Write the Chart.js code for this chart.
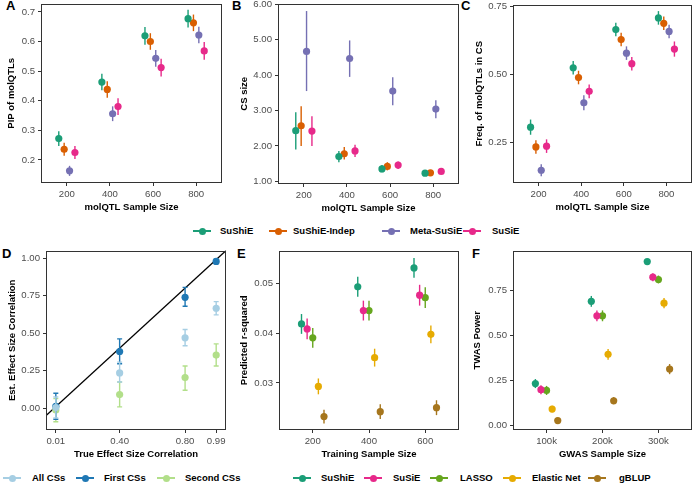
<!DOCTYPE html>
<html>
<head>
<meta charset="utf-8">
<script src="https://cdn.jsdelivr.net/npm/chart.js@4.4.1/dist/chart.umd.min.js"></script>
<style>
  html, body { margin: 0; padding: 0; background: #fff; }
  #fig { position: relative; width: 700px; height: 488px; overflow: hidden;
         font-family: 'Liberation Sans', Arial, sans-serif; }
  #fig canvas { position: absolute; }
  .tag { position: absolute; font-weight: bold; font-size: 13px; line-height: 13px; color: #000; }
  .keyline { position: absolute; width: 18px; height: 1.5px; }
  .keydot { position: absolute; width: 7px; height: 7px; border-radius: 50%; }
  .keytxt { position: absolute; font-weight: bold; font-size: 9.5px; line-height: 12px; color: #000; white-space: nowrap; }
</style>
</head>
<body>
<div id="fig">
  <div class="tag" style="left:6px;top:-1px">A</div>
  <div class="tag" style="left:232px;top:-1px">B</div>
  <div class="tag" style="left:461px;top:-1px">C</div>
  <div class="tag" style="left:2px;top:247px">D</div>
  <div class="tag" style="left:237px;top:247px">E</div>
  <div class="tag" style="left:472px;top:247px">F</div>
</div>
<script>
// ---- data ----
// top row: fine-mapping simulations
const molqtlN = [200, 400, 600, 800];
const fmMethods = ['SuShiE', 'SuShiE-Indep', 'Meta-SuSiE', 'SuSiE'];
const fmColors = ['#1B9E77', '#D95F02', '#7570B3', '#E7298A'];

// A: PIP of molQTLs (mean, +/- half width)
const pipMean = [
  [0.272, 0.463, 0.619, 0.677],
  [0.236, 0.438, 0.600, 0.663],
  [0.163, 0.356, 0.543, 0.622],
  [0.225, 0.380, 0.512, 0.568]
];
const pipErr = [
  [0.025, 0.028, 0.030, 0.030],
  [0.022, 0.028, 0.028, 0.028],
  [0.017, 0.025, 0.028, 0.028],
  [0.022, 0.028, 0.030, 0.030]
];

// B: CS size (mean, lower, upper)
const csMean = [
  [2.43, 1.70, 1.35, 1.23],
  [2.57, 1.78, 1.42, 1.24],
  [4.67, 4.47, 3.55, 3.04],
  [2.42, 1.86, 1.46, 1.28]
];
const csLo = [
  [1.90, 1.54, 1.26, 1.19],
  [2.00, 1.62, 1.31, 1.20],
  [3.55, 3.95, 3.15, 2.78],
  [2.00, 1.69, 1.35, 1.24]
];
const csHi = [
  [2.95, 1.86, 1.46, 1.27],
  [3.12, 1.97, 1.54, 1.28],
  [5.81, 4.98, 3.94, 3.29],
  [2.84, 2.03, 1.56, 1.32]
];

// C: frequency of molQTLs in CS
const freqMean = [
  [0.305, 0.524, 0.665, 0.708],
  [0.232, 0.488, 0.628, 0.688],
  [0.146, 0.395, 0.578, 0.658],
  [0.235, 0.437, 0.539, 0.593]
];
const freqErr = [
  [0.028, 0.025, 0.025, 0.025],
  [0.025, 0.025, 0.025, 0.025],
  [0.022, 0.028, 0.025, 0.025],
  [0.025, 0.025, 0.025, 0.028]
];

// D: effect size correlation
const trueCorr = [0.01, 0.40, 0.80, 0.99];
const csGroups = ['All CSs', 'First CSs', 'Second CSs'];
const csColors = ['#A6CEE3', '#1F78B4', '#B2DF8A'];
const corrMean = [
  [0.005, 0.235, 0.469, 0.666],
  [0.013, 0.378, 0.739, 0.978],
  [-0.011, 0.091, 0.204, 0.354]
];
const corrLo = [
  [-0.065, 0.175, 0.416, 0.622],
  [-0.073, 0.296, 0.679, 0.963],
  [-0.090, 0.009, 0.120, 0.281]
];
const corrHi = [
  [0.075, 0.307, 0.524, 0.710],
  [0.100, 0.462, 0.805, 0.993],
  [0.064, 0.175, 0.281, 0.429]
];
const identityLine = [-0.2, 1.2];

// bottom row: prediction / TWAS
const twasMethods = ['SuShiE', 'SuSiE', 'LASSO', 'Elastic Net', 'gBLUP'];
const twasColors = ['#1B9E77', '#E7298A', '#66A61E', '#E6AB02', '#A6761D'];

// E: predicted r-squared
const trainN = [200, 400, 600];
const r2Mean = [
  [0.0419, 0.0494, 0.0532],
  [0.0409, 0.0446, 0.0477],
  [0.0391, 0.0446, 0.0472],
  [0.0293, 0.0351, 0.0398],
  [0.0232, 0.0242, 0.0250]
];
const r2Err = [
  [0.0020, 0.0020, 0.0020],
  [0.0021, 0.0020, 0.0021],
  [0.0020, 0.0020, 0.0021],
  [0.0016, 0.0018, 0.0018],
  [0.0014, 0.0015, 0.0015]
];

// F: TWAS power (GWAS N in thousands)
const gwasN = [100, 200, 300];
const powMean = [
  [0.233, 0.688, 0.908],
  [0.199, 0.608, 0.822],
  [0.195, 0.608, 0.809],
  [0.092, 0.395, 0.678],
  [0.028, 0.138, 0.313]
];
const powErr = [
  [0.025, 0.030, 0.015],
  [0.025, 0.030, 0.022],
  [0.025, 0.030, 0.022],
  [0.018, 0.030, 0.028],
  [0.010, 0.020, 0.028]
];

// tick labels
const ticksA = [0.2, 0.3, 0.4, 0.5, 0.6, 0.7];
const ticksB = [1, 2, 3, 4, 5, 6];
const ticksC = [0.25, 0.50, 0.75];
const ticksDy = [0, 0.25, 0.5, 0.75, 1];
const ticksE = [0.03, 0.04, 0.05];
const ticksF = [0, 0.25, 0.5, 0.75];

// ---- drawing ----
const FONT = "'Liberation Sans', Arial, sans-serif";

// error bars under each dataset's points
const errorBars = {
  id: 'errorBars',
  beforeDatasetDraw(chart, args) {
    const ds = chart.data.datasets[args.index];
    if (!ds.lo) return;
    const ys = chart.scales.y, ctx = chart.ctx;
    ctx.save();
    ctx.strokeStyle = ds.backgroundColor;
    ctx.lineWidth = 1.4;
    args.meta.data.forEach((pt, i) => {
      const y1 = ys.getPixelForValue(ds.lo[i]);
      const y2 = ys.getPixelForValue(ds.hi[i]);
      ctx.beginPath();
      ctx.moveTo(pt.x, y1);
      ctx.lineTo(pt.x, y2);
      if (ds.cap) {
        ctx.moveTo(pt.x - ds.cap, y1); ctx.lineTo(pt.x + ds.cap, y1);
        ctx.moveTo(pt.x - ds.cap, y2); ctx.lineTo(pt.x + ds.cap, y2);
      }
      ctx.stroke();
    });
    ctx.restore();
  }
};

// panel border
const frame = {
  id: 'frame',
  afterDraw(chart) {
    const a = chart.chartArea, ctx = chart.ctx;
    ctx.save();
    ctx.strokeStyle = '#333';
    ctx.lineWidth = 1;
    ctx.strokeRect(Math.round(a.left) + 0.5, Math.round(a.top) + 0.5,
                   Math.round(a.right - a.left) - 1, Math.round(a.bottom - a.top) - 1);
    ctx.restore();
  }
};
Chart.register(errorBars, frame);

function dodged(xs, means, los, his, names, colors, width) {
  const k = means.length;
  return means.map((m, j) => ({
    label: names[j],
    data: xs.map((x, i) => ({ x: x + (j - (k - 1) / 2) * width, y: m[i] })),
    lo: los[j],
    hi: his[j],
    backgroundColor: colors[j],
    pointRadius: 3.6,
    pointHoverRadius: 3.6,
    pointBorderWidth: 0
  }));
}

function symLo(m, e) { return m.map((r, j) => r.map((v, i) => v - e[j][i])); }
function symHi(m, e) { return m.map((r, j) => r.map((v, i) => v + e[j][i])); }

function axis(min, max, ticks, fmt, title, isX, size, titlePad) {
  return {
    type: 'linear',
    min: min, max: max,
    afterBuildTicks: s => { s.ticks = ticks.map(v => ({ value: v })); },
    afterFit: s => {
      if (isX) { s.height = size; s.paddingLeft = 0; s.paddingRight = 0; }
      else { s.width = size; s.paddingTop = 0; s.paddingBottom = 0; }
    },
    ticks: { color: '#4d4d4d', font: { family: FONT, size: 9.6 }, padding: 3,
             autoSkip: false, maxRotation: 0, callback: fmt },
    grid: { drawOnChartArea: false, tickLength: 3, color: '#333', lineWidth: 1 },
    border: { display: false },
    title: { display: true, text: title, color: '#000',
             font: { family: FONT, size: 9.5, weight: 'bold' },
             padding: isX ? { top: 0, bottom: titlePad } : { top: titlePad, bottom: 0 } }
  };
}

function makePanel(p) {
  const left = p.col, top = p.box.t - 3;
  const w = p.box.r + 4 - left, h = p.box.b + 40 - top;
  const cv = document.createElement('canvas');
  cv.width = w; cv.height = h;
  cv.style.left = left + 'px'; cv.style.top = top + 'px';
  cv.style.width = w + 'px'; cv.style.height = h + 'px';
  document.getElementById('fig').appendChild(cv);
  new Chart(cv, {
    type: 'scatter',
    data: { datasets: p.datasets },
    options: {
      responsive: false,
      animation: false,
      layout: { padding: { top: 3, right: 4, left: 0, bottom: 0 } },
      plugins: { legend: { display: false }, tooltip: { enabled: false } },
      scales: {
        x: axis(p.x[0], p.x[1], p.x[2], p.x[3], p.x[4], true, 40, 10.3),
        y: axis(p.y[0], p.y[1], p.y[2], p.y[3], p.y[4], false, p.box.l - left, p.yPad)
      }
    }
  });
}

const f1 = v => v.toFixed(1);
const f2 = v => v.toFixed(2);
const fInt = v => String(v);
const fK = v => v + 'k';

makePanel({
  col: 0, box: { l: 41, t: 3, r: 222, b: 183 }, yPad: 6,
  x: [80, 920, molqtlN, fInt, 'molQTL Sample Size'],
  y: [0.122, 0.728, ticksA, f1, 'PIP of molQTLs'],
  datasets: dodged(molqtlN, pipMean, symLo(pipMean, pipErr), symHi(pipMean, pipErr), fmMethods, fmColors, 25)
});
makePanel({
  col: 232, box: { l: 278, t: 3, r: 459, b: 184 }, yPad: 6.3,
  x: [80, 920, molqtlN, fInt, 'molQTL Sample Size'],
  y: [0.925, 6.02, ticksB, f2, 'CS size'],
  datasets: dodged(molqtlN, csMean, csLo, csHi, fmMethods, fmColors, 25)
});
makePanel({
  col: 462, box: { l: 513, t: 4, r: 692, b: 183 }, yPad: 11.3,
  x: [80, 920, molqtlN, fInt, 'molQTL Sample Size'],
  y: [0.099, 0.757, ticksC, f2, 'Freq. of molQTLs in CS'],
  datasets: dodged(molqtlN, freqMean, symLo(freqMean, freqErr), symHi(freqMean, freqErr), fmMethods, fmColors, 25)
});

const dSets = dodged(trueCorr, corrMean, corrLo, corrHi, csGroups, csColors, 0);
dSets.forEach(d => { d.cap = 2.5; });
dSets.push({
  label: 'y = x',
  data: identityLine.map(v => ({ x: v, y: v })),
  showLine: true, pointRadius: 0, borderColor: '#000', borderWidth: 1.3
});
makePanel({
  col: 0, box: { l: 46, t: 250, r: 226, b: 430 }, yPad: 7,
  x: [-0.05, 1.05, trueCorr, f2, 'True Effect Size Correlation'],
  y: [-0.145, 1.05, ticksDy, f2, 'Est. Effect Size Correlation'],
  datasets: dSets
});
makePanel({
  col: 232, box: { l: 279, t: 250, r: 459, b: 430 }, yPad: 6.3,
  x: [80, 720, trainN, fInt, 'Training Sample Size'],
  y: [0.0205, 0.0567, ticksE, f2, 'Predicted r-squared'],
  datasets: dodged(trainN, r2Mean, symLo(r2Mean, r2Err), symHi(r2Mean, r2Err), twasMethods, twasColors, 20)
});
makePanel({
  col: 462, box: { l: 513, t: 250, r: 692, b: 430 }, yPad: 9.3,
  x: [40, 360, gwasN, fK, 'GWAS Sample Size'],
  y: [-0.024, 0.969, ticksF, f2, 'TWAS Power'],
  datasets: dodged(gwasN, powMean, symLo(powMean, powErr), symHi(powMean, powErr), twasMethods, twasColors, 10)
});

// ---- legends ----
function legend(names, colors, marks, texts, yc) {
  const fig = document.getElementById('fig');
  names.forEach((n, i) => {
    const line = document.createElement('div');
    line.className = 'keyline';
    line.style.cssText = `left:${marks[i] - 9}px;top:${yc - 0.75}px;background:${colors[i]}`;
    const dot = document.createElement('div');
    dot.className = 'keydot';
    dot.style.cssText = `left:${marks[i] - 3.5}px;top:${yc - 3.5}px;background:${colors[i]}`;
    const txt = document.createElement('div');
    txt.className = 'keytxt';
    txt.style.cssText = `left:${texts[i]}px;top:${yc - 6}px`;
    txt.textContent = n;
    fig.append(line, dot, txt);
  });
}
legend(fmMethods, fmColors, [202, 278, 391, 472], [220, 293, 410, 492], 231);
legend(csGroups, csColors, [12, 85, 166], [32, 104, 185], 478);
legend(twasMethods, twasColors, [302, 373, 439, 512, 597], [321, 393, 460, 532, 619], 478);
</script>
</body>
</html>
